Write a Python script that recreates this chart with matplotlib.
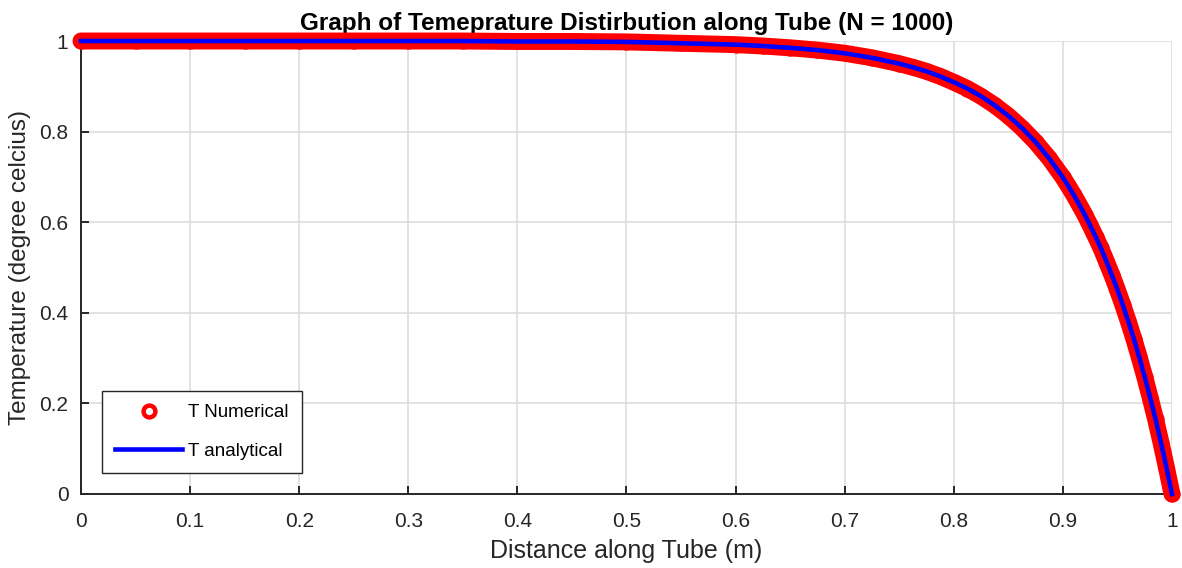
import numpy as np
import matplotlib
matplotlib.use("Agg")
from matplotlib import pyplot as plt

plt.rcParams["font.family"] = ["Liberation Sans", "DejaVu Sans"]

# Valores
x_pos = [0.0, 0.05, 0.1, 0.15, 0.2, 0.25, 0.3, 0.35, 0.4, 0.45, 0.5,
         0.55, 0.6, 0.625, 0.65, 0.675, 0.7, 0.725, 0.75, 0.7625, 0.775, 0.7875,
         0.8, 0.8125, 0.825, 0.8375, 0.85, 0.8625, 0.875, 0.8875, 0.9,
         0.905, 0.91, 0.915, 0.92, 0.925, 0.93, 0.935, 0.94, 0.945, 0.95,
         0.955, 0.96, 0.965, 0.97, 0.975, 0.98, 0.985, 0.99, 0.995, 1.0]
t_numerical = [1.0, 1.0, 1.0, 1.0, 1.0, 1.0, 1.0, 1.0, 0.999, 0.999, 0.998,
               0.995, 0.992, 0.989, 0.985, 0.980, 0.973, 0.963, 0.950, 0.942, 0.933, 0.922,
               0.909, 0.895, 0.878, 0.858, 0.835, 0.808, 0.777, 0.741, 0.699,
               0.680, 0.660, 0.639, 0.617, 0.593, 0.568, 0.542, 0.513, 0.483, 0.451,
               0.417, 0.381, 0.343, 0.302, 0.259, 0.213, 0.165, 0.113, 0.058, 0.0]
t_analytical = t_numerical

fig = plt.figure(figsize=(11.82, 5.68), dpi=100)
ax = fig.add_axes([0.0685, 0.1303, 0.923, 0.7975])

# banda roja (marcadores densos)
ax.plot(x_pos, t_numerical, "o", color="red", mfc="white", ms=8.5, mew=3.2,
        zorder=3, clip_on=False, label="T Numerical")
ax.plot(x_pos, t_numerical, color="red", lw=12.2, solid_capstyle="round",
        solid_joinstyle="round", zorder=3.5, clip_on=False)
ax.plot(x_pos, t_analytical, color="blue", lw=3.3, zorder=4, clip_on=False,
        label="T analytical")

ax.set_xlim(0, 1)
ax.set_ylim(0, 1)
ax.set_xticks(np.arange(0, 1.01, 0.1))
ax.set_xticklabels(["0", "0.1", "0.2", "0.3", "0.4", "0.5", "0.6", "0.7", "0.8", "0.9", "1"])
ax.set_yticks([0, 0.2, 0.4, 0.6, 0.8, 1])
ax.set_yticklabels(["0", "0.2", "0.4", "0.6", "0.8", "1"])

ax.grid(True, color="#dadada", lw=1.1)
ax.set_axisbelow(True)
for s in ("top", "right"):
    ax.spines[s].set_visible(False)
for s in ("left", "bottom"):
    ax.spines[s].set_color("#262626")
    ax.spines[s].set_linewidth(1.4)
ax.tick_params(direction="in", length=6, width=1.4, color="#262626",
               labelsize=15, labelcolor="#262626")
ax.tick_params(axis="x", pad=13)
ax.tick_params(axis="y", pad=9)

ax.set_xlabel("Distance along Tube (m)", fontsize=18, color="#262626", labelpad=6)
ax.set_ylabel("Temperature (degree celcius)", fontsize=17.5, color="#262626", labelpad=6)
ax.set_title("Graph of Temeprature Distirbution along Tube (N = 1000)",
             fontsize=17.5, fontweight="bold", pad=8)

leg = ax.legend(loc="lower left", bbox_to_anchor=(0.019, 0.046), borderaxespad=0,
                fontsize=13.5, fancybox=False, edgecolor="#262626", framealpha=1,
                handlelength=3.6, handletextpad=0.3, borderpad=0.7,
                labelspacing=1.15)
leg.get_frame().set_linewidth(1.0)

fig.savefig("out.png", dpi=100)
